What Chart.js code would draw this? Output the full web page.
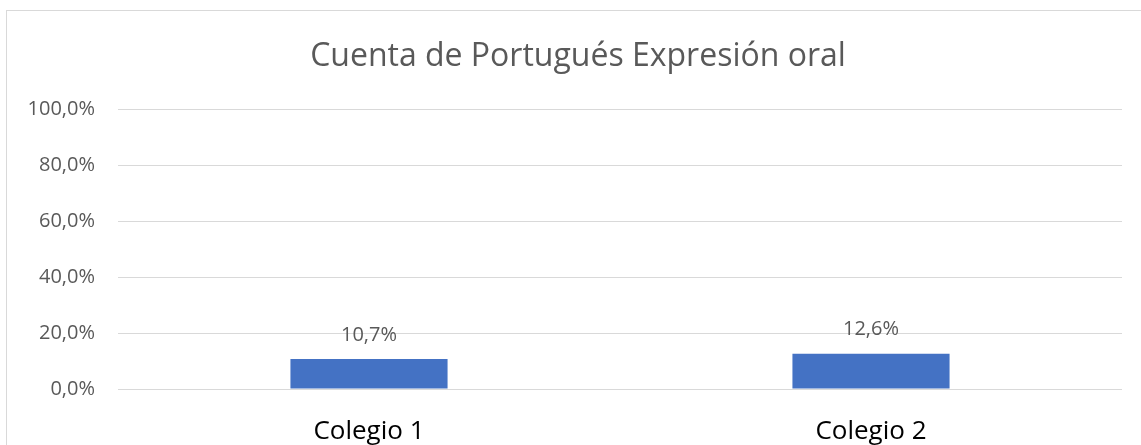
<!DOCTYPE html>
<html>
<head>
<meta charset="utf-8">
<script src="https://cdn.jsdelivr.net/npm/chart.js@4/dist/chart.umd.min.js"></script>
<style>
  html, body { margin: 0; padding: 0; background: #fff; overflow: hidden; }
  #frame {
    position: absolute; left: 6px; top: 10px;
    width: 1142px; height: 440px;
    border-left: 1px solid #d9d9d9; border-top: 1px solid #d9d9d9;
  }
</style>
</head>
<body>
<div id="frame"><canvas id="myChart" width="1142" height="440"></canvas></div>
<script>
let colegios = ["Colegio 1", "Colegio 2"];
let porcentajes = [10.7, 12.6];
let yTicks = [0, 20, 40, 60, 80, 100];
let titulo = 'Cuenta de Portugués Expresión oral';

let fmt = (v, dec) => v.toFixed(dec).replace('.', ',') + '%';

// title centred on the whole frame, not on the plot area
let frameTitle = {
  id: 'frameTitle',
  afterDraw(chart) {
    let ctx = chart.ctx;
    ctx.save();
    ctx.font = '32px "Open Sans"';
    ctx.fillStyle = '#595959';
    ctx.textAlign = 'center';
    ctx.textBaseline = 'middle';
    ctx.fillText(titulo, chart.width / 2, 46);
    ctx.restore();
  }
};

// labels above each bar, placed from the bar element itself
let barLabels = {
  id: 'barLabels',
  afterDatasetsDraw(chart) {
    let ctx = chart.ctx;
    let meta = chart.getDatasetMeta(0);
    ctx.save();
    ctx.font = '20px "Open Sans"';
    ctx.fillStyle = '#595959';
    ctx.textAlign = 'center';
    ctx.textBaseline = 'middle';
    meta.data.forEach((bar, i) => {
      ctx.fillText(fmt(porcentajes[i], 1), bar.x, bar.y - 24);
    });
    ctx.restore();
  }
};

new Chart(document.getElementById("myChart"), {
  type: 'bar',
  data: {
    labels: colegios,
    datasets: [
      {
        backgroundColor: "#4472c4",
        data: porcentajes,
        categoryPercentage: 1,
        barPercentage: 0.313
      }
    ]
  },
  options: {
    responsive: false,
    animation: false,
    events: [],
    layout: { padding: { left: 0, right: 27, top: 98, bottom: 0 } },
    plugins: {
      legend: { display: false },
      tooltip: { enabled: false },
      title: { display: false }
    },
    scales: {
      x: {
        grid: { display: false },
        border: { display: false },
        ticks: {
          color: '#000000',
          font: { family: 'Open Sans', size: 26 },
          padding: 19
        },
        afterFit: (scale) => { scale.height = 62; }
      },
      y: {
        min: 0,
        max: 100,
        afterBuildTicks: (scale) => { scale.ticks = yTicks.map(v => ({ value: v })); },
        grid: { color: '#d9d9d9', lineWidth: 1, drawTicks: false },
        border: { display: false },
        ticks: {
          color: '#595959',
          font: { family: 'Open Sans', size: 20 },
          padding: 23,
          callback: (v) => fmt(v, 1)
        },
        afterFit: (scale) => { scale.width = 111; }
      }
    }
  },
  plugins: [barLabels, frameTitle]
});
</script>
</body>
</html>
